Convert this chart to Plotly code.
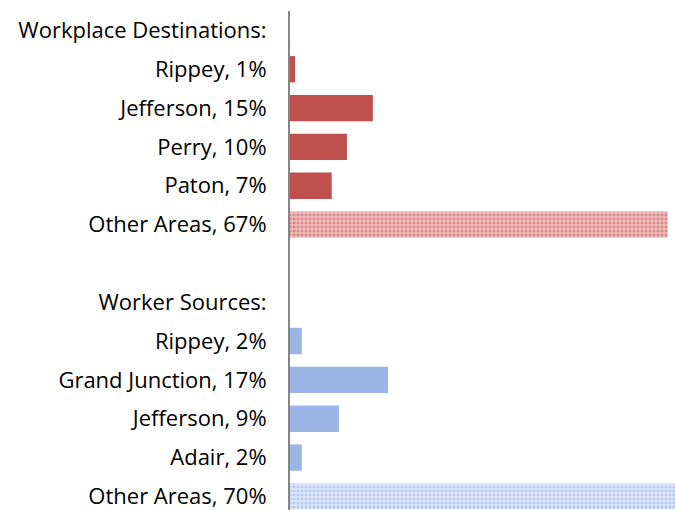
import plotly.graph_objects as go

# rows top to bottom; header rows carry no bar
categories = [
    "Workplace Destinations:",
    "Rippey, 1%",
    "Jefferson, 15%",
    "Perry, 10%",
    "Paton, 7%",
    "Other Areas, 67%",
    " ",
    "Worker Sources:",
    "Rippey, 2%",
    "Grand Junction, 17%",
    "Jefferson, 9%",
    "Adair, 2%",
    "Other Areas, 70%",
]

dest_labels = ["Rippey, 1%", "Jefferson, 15%", "Perry, 10%", "Paton, 7%"]
dest_values = [0.9, 14.7, 10.1, 7.4]
dest_other_label = "Other Areas, 67%"
dest_other_value = 67.0

src_labels = ["Rippey, 2%", "Grand Junction, 17%", "Jefferson, 9%", "Adair, 2%"]
src_values = [2.1, 17.4, 8.7, 2.1]
src_other_label = "Other Areas, 70%"
src_other_value = 69.7

RED = "#C0504D"
BLUE = "#9BB5E5"

fig = go.Figure()

fig.add_trace(go.Bar(
    y=dest_labels, x=dest_values, orientation="h",
    marker=dict(color=RED, line=dict(width=0)),
))
fig.add_trace(go.Bar(
    y=[dest_other_label], x=[dest_other_value], orientation="h",
    marker=dict(
        color="#E59C9A", line=dict(width=0),
        pattern=dict(shape="+", fgcolor="#F6DADA", bgcolor="#DA8684",
                     size=4, solidity=0.4, fillmode="replace"),
    ),
))
fig.add_trace(go.Bar(
    y=src_labels, x=src_values, orientation="h",
    marker=dict(color=BLUE, line=dict(width=0)),
))
fig.add_trace(go.Bar(
    y=[src_other_label], x=[src_other_value], orientation="h",
    marker=dict(
        color="#C5D5F2", line=dict(width=0),
        pattern=dict(shape="+", fgcolor="#EEF3FC", bgcolor="#B5CAEF",
                     size=4, solidity=0.4, fillmode="replace"),
    ),
))

n = len(categories)
fig.update_layout(
    width=675,
    height=510,
    margin=dict(l=290, r=0, t=11, b=0, autoexpand=False),
    plot_bgcolor="white",
    paper_bgcolor="white",
    showlegend=False,
    barmode="overlay",
    bargap=0.32,
    font=dict(family="Open Sans", size=22, color="black"),
)
fig.update_xaxes(
    range=[0, 68.3], visible=False, showgrid=False, zeroline=False,
    automargin=False,
)
fig.update_yaxes(
    type="category",
    categoryorder="array",
    categoryarray=categories,
    range=[n - 0.65, -0.5],
    automargin=False,
    showline=True, linecolor="#868686", linewidth=2,
    showgrid=False, zeroline=False,
    ticks="", ticklabelstandoff=17,
)

# drop the default body margin so the figure sits at the window corner
fig.write_html(
    "out.html",
    config={"displayModeBar": False},
    post_script="document.body.style.margin='0';"
                "document.body.style.overflow='hidden';",
)
